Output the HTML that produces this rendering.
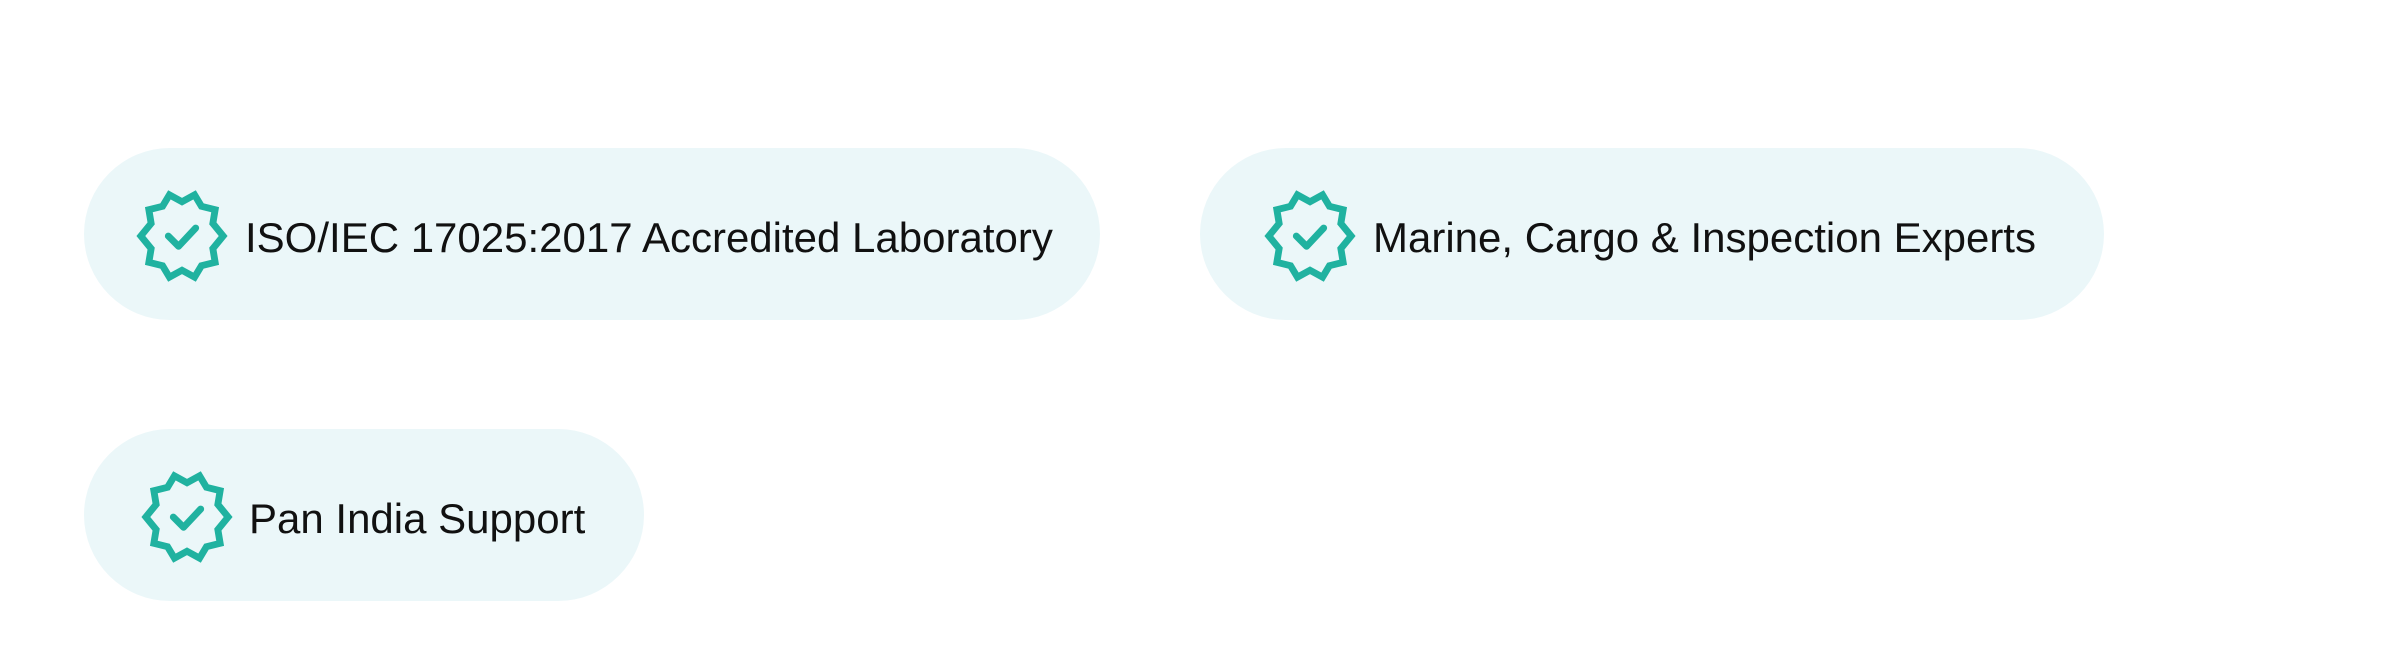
<!DOCTYPE html>
<html><head><meta charset="utf-8"><style>
html,body{margin:0;padding:0;background:#fff;width:2400px;height:664px;overflow:hidden}
.pill{position:absolute;background:#ebf7f9;border-radius:86px;height:172px}
.pill svg{position:absolute;top:40px}
.pill span{position:absolute;top:4px;line-height:172px;font-family:"Liberation Sans",sans-serif;font-size:42px;color:#111;white-space:nowrap}
</style></head><body>

<div class="pill" style="left:84px;top:148px;width:1016px">
<svg style="left:50px" width="96" height="96" viewBox="-42 -42 84 84"><polygon fill="none" stroke="#20b2a0" stroke-width="6" points="0,-30 11,-36 17,-26 29,-23 27,-11 36,0 27,11 29,23 17,26 11,36 0,30 -11,36 -17,26 -29,23 -27,11 -36,0 -27,-11 -29,-23 -17,-26 -11,-36"/><polyline fill="none" stroke="#20b2a0" stroke-width="6" stroke-linecap="round" stroke-linejoin="round" points="-12,0 -3,9 12,-7"/></svg>
<span style="left:161px">ISO/IEC 17025:2017 Accredited Laboratory</span>
</div>

<div class="pill" style="left:1200px;top:148px;width:904px">
<svg style="left:62px" width="96" height="96" viewBox="-42 -42 84 84"><polygon fill="none" stroke="#20b2a0" stroke-width="6" points="0,-30 11,-36 17,-26 29,-23 27,-11 36,0 27,11 29,23 17,26 11,36 0,30 -11,36 -17,26 -29,23 -27,11 -36,0 -27,-11 -29,-23 -17,-26 -11,-36"/><polyline fill="none" stroke="#20b2a0" stroke-width="6" stroke-linecap="round" stroke-linejoin="round" points="-12,0 -3,9 12,-7"/></svg>
<span style="left:173px">Marine, Cargo &amp; Inspection Experts</span>
</div>

<div class="pill" style="left:84px;top:429px;width:560px">
<svg style="left:55px" width="96" height="96" viewBox="-42 -42 84 84"><polygon fill="none" stroke="#20b2a0" stroke-width="6" points="0,-30 11,-36 17,-26 29,-23 27,-11 36,0 27,11 29,23 17,26 11,36 0,30 -11,36 -17,26 -29,23 -27,11 -36,0 -27,-11 -29,-23 -17,-26 -11,-36"/><polyline fill="none" stroke="#20b2a0" stroke-width="6" stroke-linecap="round" stroke-linejoin="round" points="-12,0 -3,9 12,-7"/></svg>
<span style="left:165px">Pan India Support</span>
</div>
</body></html>
